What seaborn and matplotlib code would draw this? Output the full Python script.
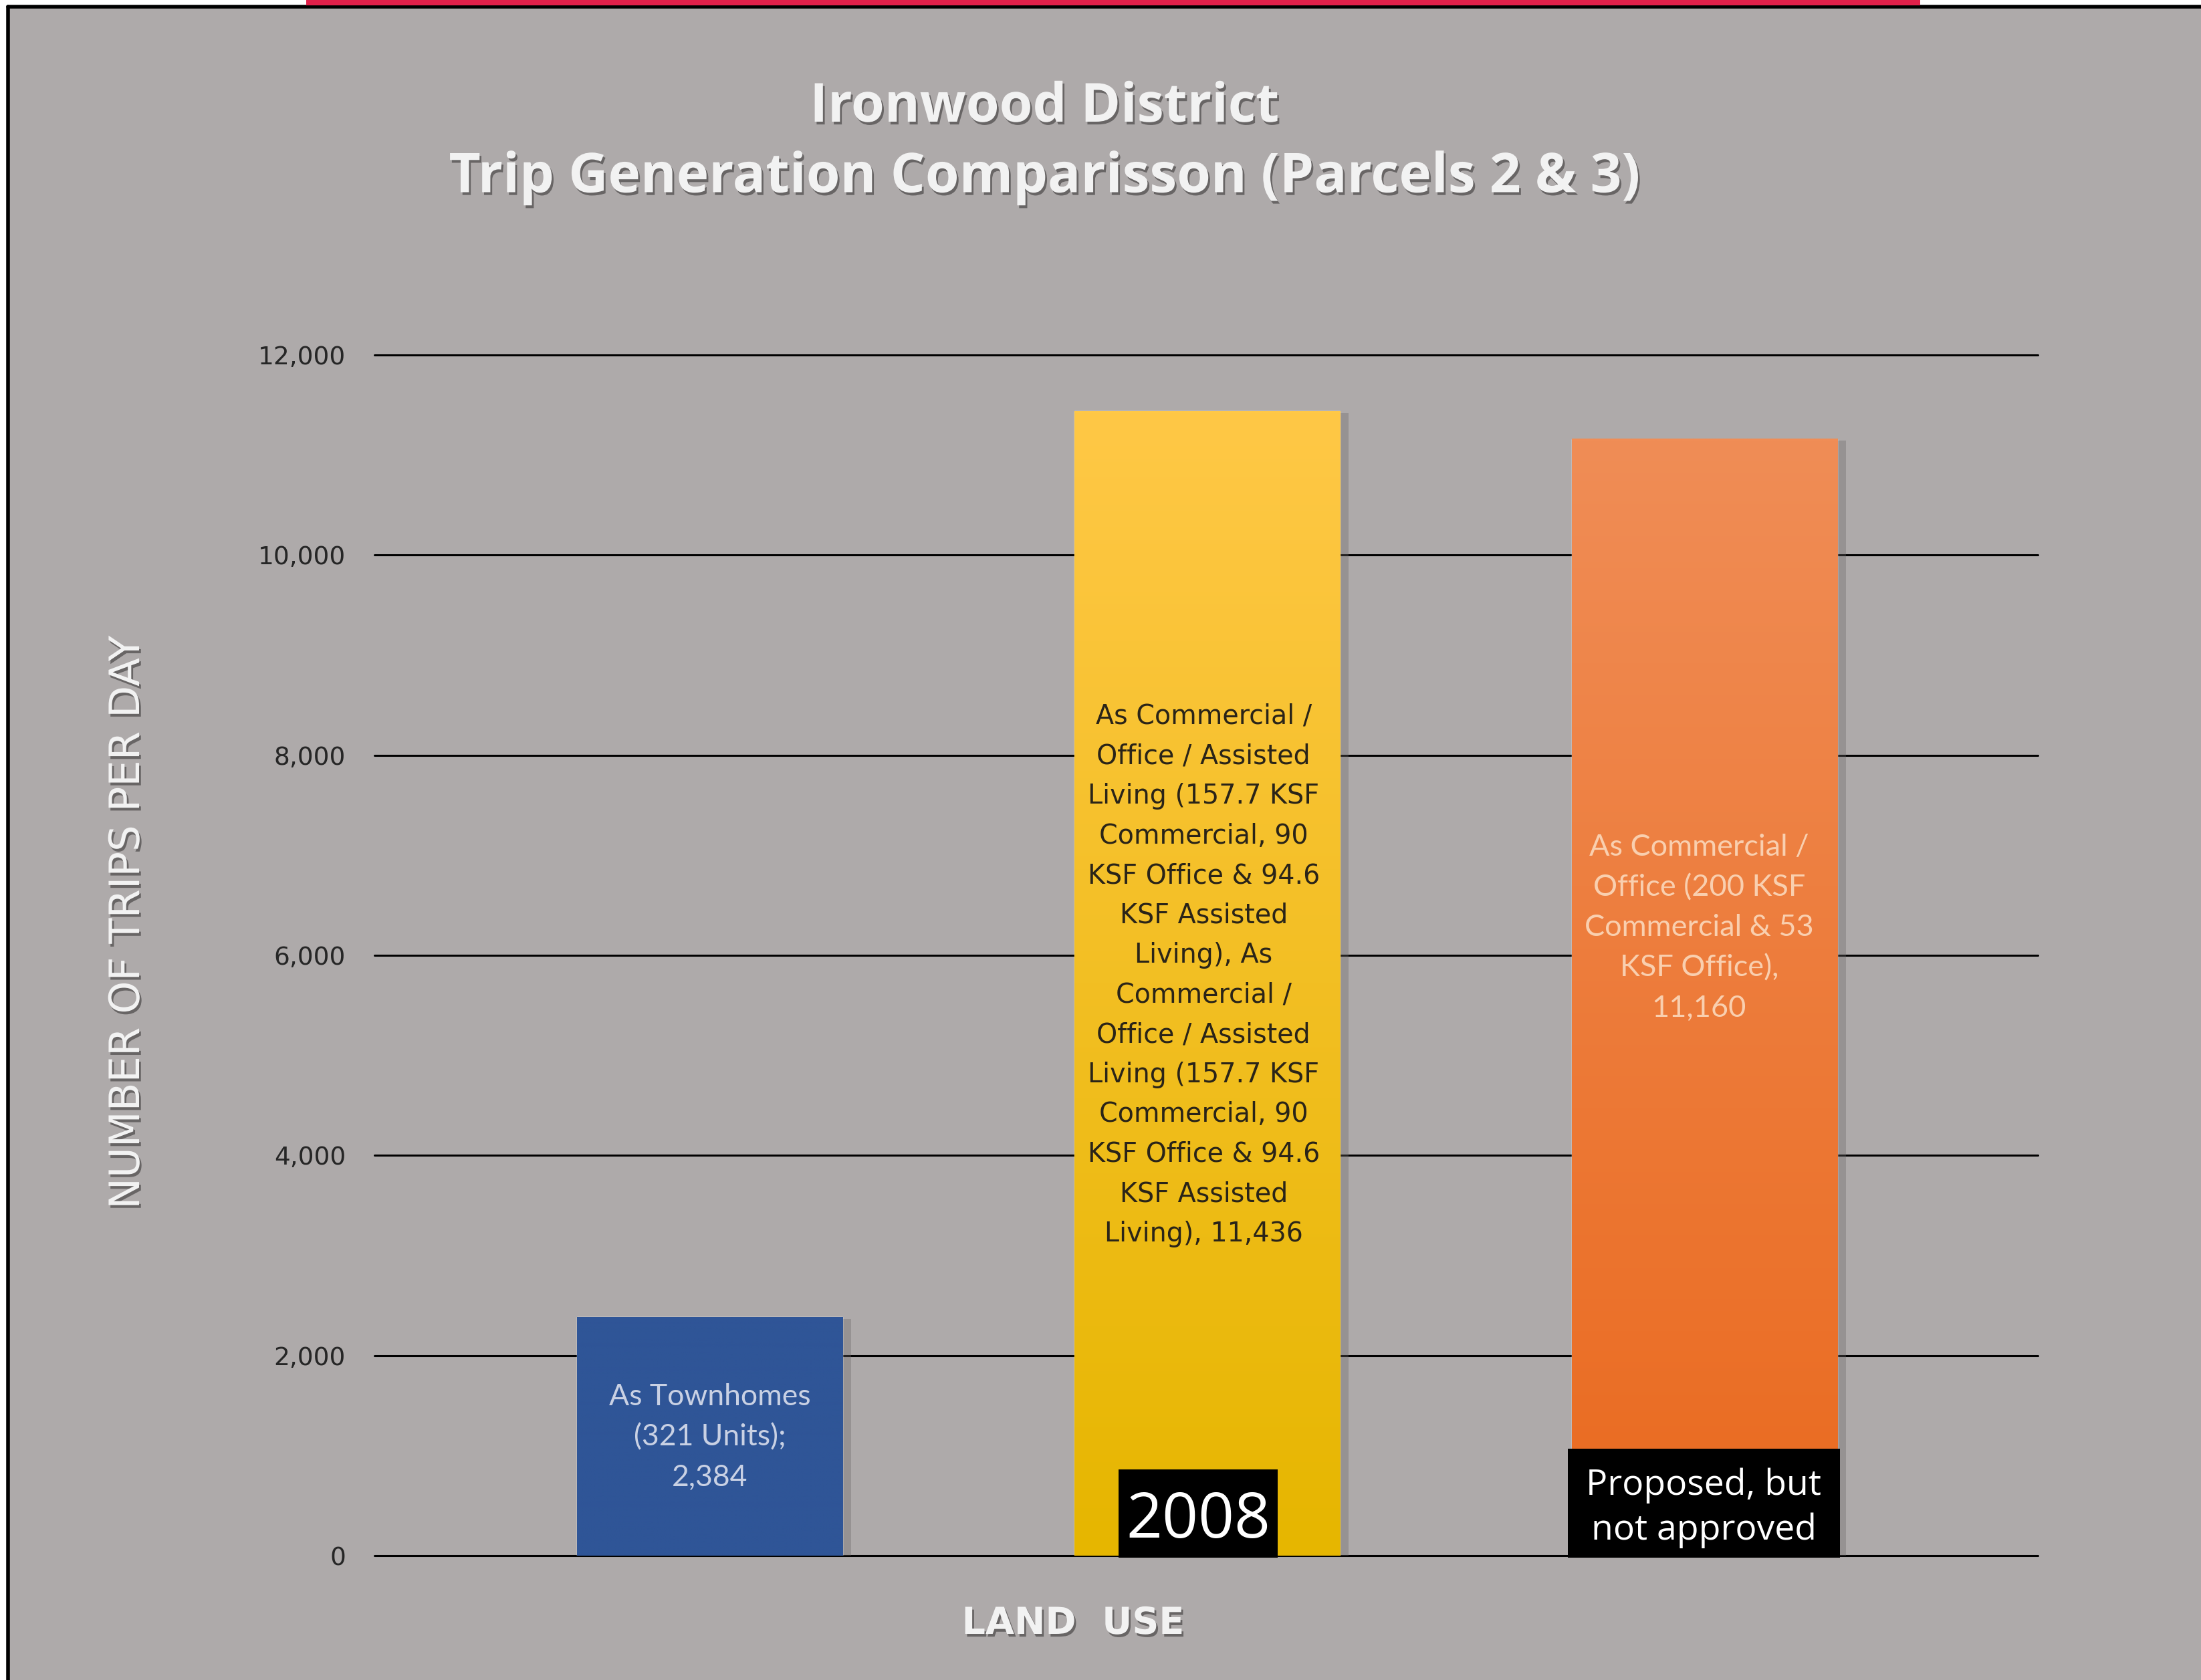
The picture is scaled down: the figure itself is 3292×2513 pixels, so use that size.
"""
Ironwood District - trip generation comparison (Parcels 2 & 3)
"""
import numpy as np
import matplotlib
matplotlib.use('Agg')
import matplotlib.pyplot as plt
import matplotlib.patheffects as pe
from matplotlib.patches import Rectangle
from matplotlib.lines import Line2D
import matplotlib.colors as mcolors
import seaborn as sns

# Data
land_use = ["Townhomes", "Commercial / Office / Assisted Living", "Commercial / Office"]
trips = [2384, 11436, 11160]
bar_labels = [
    "As Townhomes\n(321 Units);\n2,384",
    "As Commercial /\nOffice / Assisted\nLiving (157.7 KSF\nCommercial, 90\nKSF Office & 94.6\n"
    "KSF Assisted\nLiving), As\nCommercial /\nOffice / Assisted\nLiving (157.7 KSF\n"
    "Commercial, 90\nKSF Office & 94.6\nKSF Assisted\nLiving), 11,436",
    "As Commercial /\nOffice (200 KSF\nCommercial & 53\nKSF Office),\n11,160",
]
status_notes = ["", "2008", "Proposed, but\nnot approved"]
y_ticks = [0, 2000, 4000, 6000, 8000, 10000, 12000]

# Styles / layout
W, H = 3292, 2513
BG = '#AEAAAA'
bar_top = ['#2F5597', '#FFC846', '#F08D56']
bar_bottom = ['#2F5597', '#E6B600', '#EA6A1F']
label_colors = ['#C9D1E4', '#2A2418', '#F9CFAF']
label_fonts = ['Lato', 'DejaVu Sans', 'Lato']
label_sizes = [32, 28.5, 32.5]
label_spacing = [1.58, 1.63, 1.58]
label_pos = [(0.0, 1183), (0.993, 5800), (1.989, 6274)]
# note boxes: (x0, x1, y0, y1) in data units, font size, line spacing, text shift
note_boxes = [None, (0.822, 1.142, -20, 862), (1.725, 2.272, -20, 1069)]
note_sizes = [0, 68, 38.5]
note_spacing = [1.0, 1.0, 1.34]
note_shift = [0, -80, -50]

sns.set_theme(style='white')
plt.rcParams['font.family'] = ['DejaVu Sans']


def fx(px):
    return px / W


def fy(py):
    return 1 - py / H


fig = plt.figure(figsize=(W / 100, H / 100), dpi=100)
fig.patch.set_facecolor('white')

# slide frame
fig.add_artist(Rectangle((fx(12), 0), 1 - fx(12), fy(10), transform=fig.transFigure,
                         fc=BG, ec='none', zorder=0))
fig.add_artist(Line2D([fx(12), 1], [fy(10), fy(10)], color='black', lw=4, zorder=1))
fig.add_artist(Line2D([fx(12), fx(12)], [0, fy(10)], color='black', lw=4, zorder=1))
fig.add_artist(Rectangle((fx(458), fy(8)), fx(2872) - fx(458), 8 / H, transform=fig.transFigure,
                         fc='#E2204A', ec='none', zorder=2))

ax = fig.add_axes([fx(560), fy(2327), fx(3048) - fx(560), (2327 - 531) / H])
ax.set_facecolor('none')

sns.barplot(x=land_use, y=trips, hue=land_use, palette=bar_top, legend=False,
            width=0.534, saturation=1, ax=ax, zorder=3)

shadow = [pe.SimplePatchShadow(offset=(9, -2), shadow_rgbFace='#6b6767', alpha=0.35), pe.Normal()]
for i, p in enumerate(ax.patches):
    p.set_path_effects(shadow)
    x0, w, h = p.get_x(), p.get_width(), p.get_height()
    t = np.linspace(0, 1, 256)[:, None, None]
    c0 = np.array(mcolors.to_rgb(bar_top[i]))
    c1 = np.array(mcolors.to_rgb(bar_bottom[i]))
    grad = c0 * (1 - t) + c1 * t
    ax.imshow(grad, extent=[x0, x0 + w, 0, h], aspect='auto', zorder=3.5,
              interpolation='bilinear')

ax.set_xlim(-0.674, 2.670)
ax.set_ylim(0, 12000)
ax.set_aspect('auto')

ax.set_axisbelow(True)
ax.yaxis.grid(True, color='black', lw=2.2)
ax.xaxis.grid(False)
for gl in ax.get_ygridlines():
    gl.set_clip_on(False)
for s in ax.spines.values():
    s.set_visible(False)

ax.set_yticks(y_ticks)
ax.set_yticklabels([f"{v:,}" for v in y_ticks])
ax.tick_params(axis='y', length=0, pad=31, labelsize=27, labelcolor='#262626')
ax.set_xticks([])
ax.set_xlabel('')
ax.set_ylabel('')

# labels inside bars
for i, txt in enumerate(bar_labels):
    x, y = label_pos[i]
    ax.text(x, y, txt, ha='center', va='center', fontsize=label_sizes[i],
            color=label_colors[i], family=label_fonts[i], linespacing=label_spacing[i],
            zorder=5)

# black note boxes
for i, note in enumerate(status_notes):
    if not note:
        continue
    x0, x1, y0, y1 = note_boxes[i]
    ax.add_patch(Rectangle((x0, y0), x1 - x0, y1 - y0, fc='black', ec='none',
                           zorder=6, clip_on=False))
    ax.text((x0 + x1) / 2, (y0 + y1) / 2 + note_shift[i], note, ha='center', va='center',
            fontsize=note_sizes[i], color='white', family='Open Sans',
            linespacing=note_spacing[i], zorder=7)

# titles
txt_shadow = [pe.withSimplePatchShadow(offset=(2, -3), shadow_rgbFace='#3a3838', alpha=0.6)]
fig.text(fx(1562), fy(161), "Ironwood District", ha='center', va='center', fontsize=58,
         fontweight='bold', family='Open Sans', color='#F2F2F2', path_effects=txt_shadow)
fig.text(fx(1562), fy(266), "Trip Generation Comparisson (Parcels 2 & 3)", ha='center',
         va='center', fontsize=59, fontweight='bold', family='Open Sans', color='#F2F2F2',
         path_effects=txt_shadow)
fig.text(fx(191), fy(1380), "NUMBER OF TRIPS PER DAY", rotation=90, ha='center', va='center',
         fontsize=45, color='#F2F2F2', path_effects=txt_shadow)
fig.text(fx(1605), fy(2429), "LAND  USE", ha='center', va='center', fontsize=40,
         fontweight='bold', color='#F2F2F2', path_effects=txt_shadow)

fig.savefig('out.png', dpi=100, facecolor=fig.get_facecolor())
